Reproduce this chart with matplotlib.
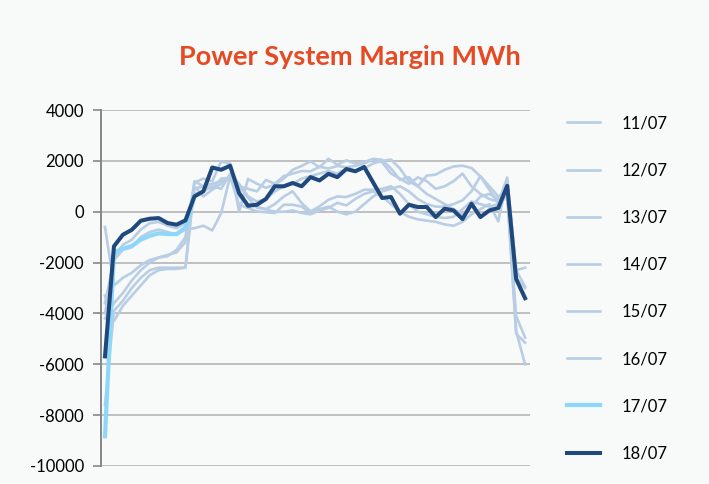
import numpy as np
import matplotlib.pyplot as plt

plt.rcParams['font.family'] = ['Lato', 'DejaVu Sans']
plt.rcParams['axes.unicode_minus'] = False

# half-hour periods 1..48
periods = np.arange(1, 49)

d11 = [-600, -2900, -2600, -2400, -2100, -1900, -1800, -1750, -1500, -1000,
       1150, 1300, 1200, 1980, 1890, 0, 1290, 1100, 940, 1060,
       1300, 1650, 1800, 1980, 1750, 2080, 1850, 2020, 1900, 1950,
       2080, 2040, 1700, 1260, 1360, 1000, 1420, 1460, 1650, 1780,
       1810, 1720, 1390, 865, 350, 1340, -2300, -2950]
d12 = [-3300, -4300, -3700, -3300, -2900, -2500, -2300, -2250, -2250, -2200,
       1200, 1000, 1100, 1200, 1360, 1000, 900, 800, 1250, 1100,
       1400, 1500, 1600, 1590, 1770, 1700, 1800, 1750, 1800, 1900,
       2050, 1950, 1500, 1300, 1100, 1350, 1200, 900, 1000, 1200,
       1500, 1000, 700, 500, 400, 700, -4100, -4950]
d13 = [-7600, -3900, -3500, -3000, -2600, -2300, -2200, -2200, -2200, -2200,
       1000, 600, 865, 1100, 1360, 275, 145, 12, -20, -50,
       275, 275, 200, -50, 100, 200, 0, -100, 0, 300,
       600, 800, 900, 1000, 800, 500, 300, 200, 200, 300,
       450, 800, 1400, 1000, 600, 800, -4700, -6000]
d14 = [-4200, -3600, -3200, -2700, -2300, -2000, -1800, -1700, -1600, -1200,
       900, 1000, 900, 1300, 1330, 1000, 550, 160, 100, 300,
       600, 800, 340, 12, 210, 470, 600, 580, 700, 865,
       865, 900, 1000, 700, 300, 0, -100, -200, -250, -200,
       100, 400, 300, 200, 300, 600, -4800, -5150]
d15 = [-4000, -1800, -1300, -1100, -700, -450, -400, -550, -650, -450,
       700, 800, 1000, 900, 1500, 1100, 600, 400, 500, 800,
       1000, 1100, 1300, 1400, 1500, 1600, 1500, 1700, 1600, 1700,
       1900, 2000, 2050, 1700, 1200, 1000, 700, 500, 300, 100,
       -100, 200, 600, 700, 500, 1000, -2600, -3000]
d16 = [-3600, -1900, -1500, -1400, -1000, -800, -700, -800, -900, -700,
       -650, -550, -735, -50, 1400, 600, 300, 200, 100, 0,
       0, 50, -50, -100, 50, 150, 350, 250, 500, 700,
       800, 600, 300, 0, -200, -300, -350, -400, -500, -550,
       -400, -100, 100, 300, -380, 1300, -2300, -2200]
d17 = [-8830, -1600, -1450, -1350, -1100, -950, -850, -880, -880, -620, 600]
d18 = [-5690, -1360, -905, -710, -355, -275, -250, -445, -510, -340,
       600, 800, 1740, 1650, 1810, 735, 235, 275, 500, 1000,
       1000, 1130, 1000, 1360, 1230, 1490, 1360, 1680, 1590, 1760,
       1150, 540, 580, -80, 275, 185, 185, -210, 120, 50,
       -290, 315, -210, 50, 145, 1020, -2650, -3400]

grey_days = ['11/07', '12/07', '13/07', '14/07', '15/07', '16/07']
grey_data = [d11, d12, d13, d14, d15, d16]

bg = '#f8f9f9'
fig = plt.figure(figsize=(7.09, 4.84), dpi=100, facecolor=bg)
ax = fig.add_axes([0.1418, 0.0372, 0.6051, 0.7355], facecolor=bg)

for lab, vals in zip(grey_days, grey_data):
    ax.plot(periods, vals, color='#b9cde5', lw=1.9, label=lab)
ax.plot(periods[:len(d17)], d17, color='#8dd8fa', lw=3.0, label='17/07')
ax.plot(periods, d18, color='#1f497d', lw=2.9, label='18/07')

ax.set_xlim(0.5, 48.5)
ax.set_ylim(-10000, 4000)
ax.set_yticks(np.arange(-10000, 4001, 2000))
ax.yaxis.grid(True, color='#bfbfbf', lw=1.4)
ax.set_axisbelow(True)
ax.set_xticks([])
for s in ['top', 'right', 'bottom']:
    ax.spines[s].set_visible(False)
ax.spines['left'].set_color('#868686')
ax.spines['left'].set_linewidth(1.4)
ax.tick_params(axis='y', direction='out', length=6, width=1.2, color='#868686',
               labelsize=12, pad=6, labelcolor='#000000')

fig.text(0.494, 0.882, 'Power System Margin MWh', ha='center', va='center',
         fontsize=19.5, fontweight='bold', color='#e64a23')

fig.legend(loc='upper left', bbox_to_anchor=(0.778, 0.793), frameon=False,
           fontsize=12, handlelength=2.0, handletextpad=1.3, labelspacing=1.87)

fig.savefig('out.png', dpi=100, facecolor=bg)
